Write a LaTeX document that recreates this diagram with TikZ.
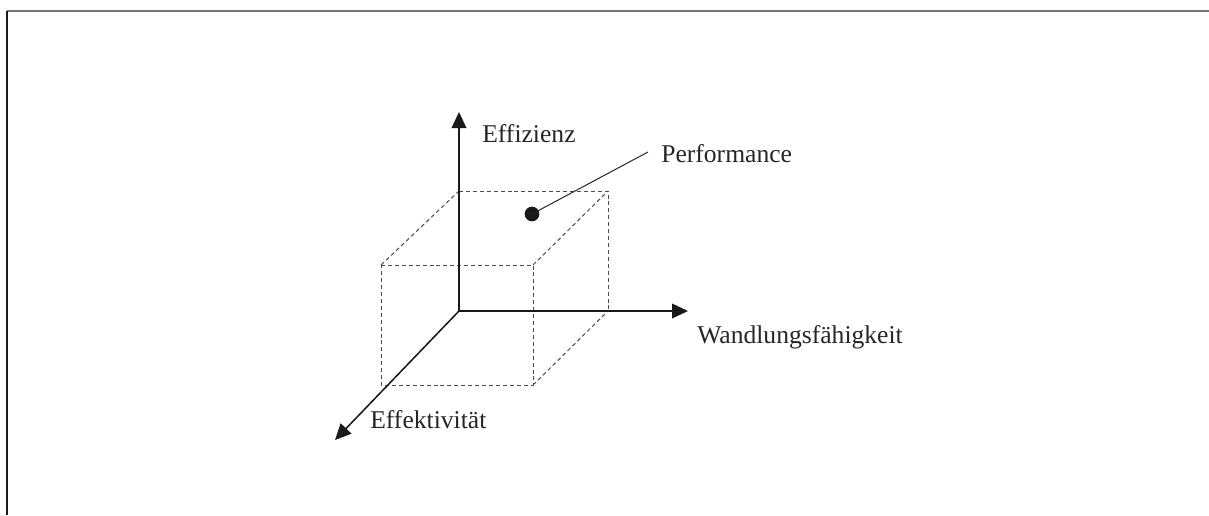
\documentclass[tikz,border=0pt]{standalone}
\usepackage{fontspec}
\setmainfont{Liberation Serif}
\usetikzlibrary{arrows.meta}
\begin{document}
\begin{tikzpicture}[x=0.75pt,y=-0.75pt,
  axis/.style={line width=1.15pt,black!90,-{Triangle[length=12pt,width=11pt]}},
  hidden/.style={line width=0.75pt,black!70,dash pattern=on 3pt off 2.2pt},
  label/.style={font=\fontsize{19.2}{22}\selectfont,text=black!85,inner sep=0pt,anchor=base west},
  framegray/.style={line width=1.1pt,black!55},
  framedark/.style={line width=1.1pt,black!90}]
\useasboundingbox (0,0) rectangle (1209,515);

% open frame: top rule and left rule
\coordinate (f1) at (7,11);
\coordinate (f2) at (1209,11);
\coordinate (f3) at (7,515);
\draw[framegray] (f1) -- (f2);
\draw[framedark] (f1) -- (f3);

% axes
\coordinate (O) at (459,311);
\coordinate (ytip) at (459,112);
\coordinate (xtip) at (688,311);
\coordinate (ztip) at (335,440);

% cube corners
\coordinate (bTL) at (459,191);
\coordinate (bTR) at (608,191);
\coordinate (bBR) at (608,311);
\coordinate (fTL) at (381,265);
\coordinate (fTR) at (533,265);
\coordinate (fBL) at (381,385);
\coordinate (fBR) at (533,385);

% hidden cube edges
\draw[hidden] (fTL) -- (fTR) -- (fBR) -- (fBL) -- cycle;
\draw[hidden] (bTL) -- (bTR) -- (bBR);
\draw[hidden] (fTL) -- (bTL);
\draw[hidden] (fTR) -- (bTR);
\draw[hidden] (fBR) -- (bBR);

\draw[axis] (O) -- (ytip);
\draw[axis] (O) -- (xtip);
\draw[axis] (O) -- (ztip);

% performance point with leader
\node[circle,fill=black!90,inner sep=0pt,minimum size=11pt] (dot) at (532,214) {};
\coordinate (lead) at (648,152);
\draw[line width=0.75pt,black!85] (dot.center) -- (lead);

% labels
\node[label] (eff) at (482,142) {Effizienz};
\node[label] (perf) at (661,162) {Performance};
\node[label] (wand) at (697,343) {Wandlungsfähigkeit};
\node[label] (efk) at (370,428) {Effektivität};
\end{tikzpicture}
\end{document}
